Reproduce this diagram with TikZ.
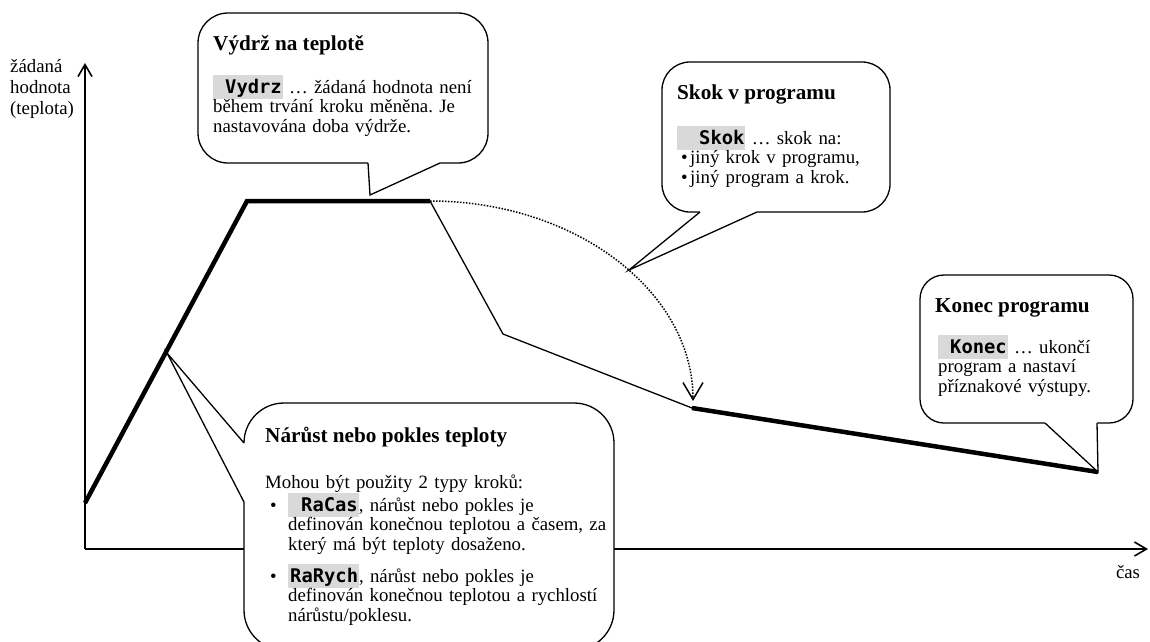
\documentclass[tikz,border=0pt]{standalone}
\usepackage{fontspec}
\setmainfont{Liberation Serif}
\newfontfamily\kodfont{DejaVu Sans Mono}
\usetikzlibrary{arrows.meta,positioning}
\frenchspacing

\definecolor{kodbg}{RGB}{217,217,217}
\newcommand{\kod}[2][0pt]{{\setlength{\fboxsep}{0pt}\colorbox{kodbg}{\vrule width 0pt height 18pt depth 6pt\hspace*{#1}\kodfont\bfseries #2\hspace*{1pt}}}}
\newcommand{\ind}{\hspace*{23pt}}
\newcommand{\bodyfont}{\fontsize{18.8}{19.5}\selectfont}

\begin{document}
\begin{tikzpicture}[x=1pt,y=-1pt,
    axis/.style={line width=1.6pt,-{Straight Barb[length=12pt,width=14pt]}},
    prog/.style={line width=4.5pt},
    thin/.style={line width=1.3pt},
    callbox/.style={draw,fill=white,line width=1.3pt},
    title/.style={anchor=base west,inner sep=0pt,font=\fontsize{21.2}{24}\selectfont\bfseries},
    body/.style={anchor=base west,inner sep=0pt,align=left,font=\bodyfont}]
  \useasboundingbox (0,0) rectangle (1150,641);

  % osy
  \coordinate (O) at (85,549);
  \coordinate (ytop) at (85,63);
  \coordinate (xend) at (1148,549);
  \draw[axis] (O) -- (ytop);
  \draw[axis] (O) -- (xend);
  \node[body,text width=90pt,font=\fontsize{18.8}{21}\selectfont] (ylab) at (10,72) {žádaná\\hodnota\\(teplota)};
  \node[anchor=base,inner sep=0pt,font=\bodyfont] (xlab) at (1128,578) {čas};

  % prubeh zadane hodnoty
  \coordinate (start) at (85,503);
  \coordinate (rise) at (247,201);
  \coordinate (hold) at (430,201);
  \coordinate (kink) at (503,334);
  \coordinate (jump) at (692,408);
  \coordinate (land) at (693,401);
  \coordinate (stop) at (1098,472);
  \draw[prog] (start) -- (rise) -- (hold);
  \draw[thin] (hold) -- (kink) -- (jump);
  \draw[prog] (jump) -- (stop);
  \draw[line width=1.5pt,dash pattern=on 1.5pt off 1.5pt,-{Straight Barb[length=17pt,width=20pt]}]
    (hold) .. controls (575,201) and (693,291) .. (land);

  % Vydrz
  \draw[callbox,rounded corners=30pt] (198,13) rectangle (488,163);
  \coordinate (vtip) at (370,195);
  \fill[white] (368,159) -- (368,163) -- (vtip) -- (440,163) -- (440,159) -- cycle;
  \draw[thin] (368,163) -- (vtip) -- (440,163);
  \node[title] (vydrz) at (213,50) {Výdrž na teplotě};
  \node[body,text width=270pt] (vydrztxt) at (213,93)
    {\kod[12pt]{Vydrz} … žádaná hodnota není\\během trvání kroku měněna. Je\\nastavována doba výdrže.};

  % Skok
  \draw[callbox,rounded corners=28pt] (662,62) rectangle (890,212);
  \coordinate (stip) at (629,270);
  \fill[white] (700,208) -- (700,212) -- (stip) -- (757,212) -- (757,208) -- cycle;
  \draw[thin] (700,212) -- (stip) -- (757,212);
  \node[title] (skok) at (677,99) {Skok v programu};
  \node[body,text width=210pt] (skoktxt) at (677,144)
    {\kod[22pt]{Skok} … skok na:\\
     \hspace*{4pt}\makebox[9pt][l]{\textbullet}jiný krok v programu,\\
     \hspace*{4pt}\makebox[9pt][l]{\textbullet}jiný program a krok.};

  % Konec
  \draw[callbox,rounded corners=24pt] (920,275) rectangle (1133,423);
  \fill[white] (1045,419) -- (1045,423) -- (stop) -- (1097,423) -- (1097,419) -- cycle;
  \draw[thin] (1045,423) -- (stop) -- (1097,423);
  \node[title] (konec) at (935,312) {Konec programu};
  \node[body,text width=195pt] (konectxt) at (938,353)
    {\kod[12pt]{Konec} … ukončí\\program a nastaví\\příznakové výstupy.};

  % Narust / pokles
  \coordinate (ntip) at (167,353);
  \draw[callbox,rounded corners=40pt] (244,403) rectangle (614,650);
  \fill[white] (248,443) -- (244,443) -- (ntip) -- (244,502) -- (248,502) -- cycle;
  \draw[thin] (244,443) -- (ntip) -- (244,502);
  \node[title] (narust) at (265,442) {Nárůst nebo pokles teploty};
  \node[body,text width=400pt] (narusttxt) at (265,488)
    {Mohou být použity 2 typy kroků:\\
     \hspace*{5pt}\makebox[18pt][l]{\textbullet}\kod[13pt]{RaCas}, nárůst nebo pokles je\\
     \ind definován konečnou teplotou a časem, za\\
     \ind který má být teploty dosaženo.\\[9pt]
     \hspace*{5pt}\makebox[18pt][l]{\textbullet}\kod[2pt]{RaRych}, nárůst nebo pokles je\\
     \ind definován konečnou teplotou a rychlostí\\
     \ind nárůstu/poklesu.};
\end{tikzpicture}
\end{document}
